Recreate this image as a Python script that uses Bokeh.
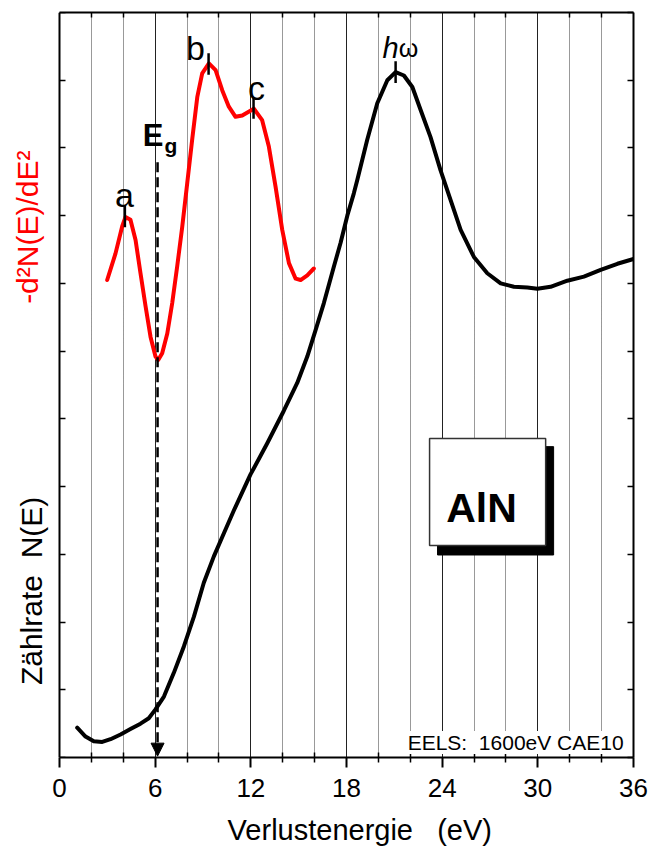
import math
from bokeh.plotting import figure
from bokeh.models import (FixedTicker, LinearAxis, Label, Arrow, NormalHead, Range1d, Grid)
from bokeh.core.properties import value
from bokeh.embed import file_html
from bokeh.resources import INLINE

FONT = "Liberation Sans"

# Black curve: Zählrate N(E)
energy_N = [1.11, 1.63, 2.15, 2.68, 3.20, 3.83, 4.45, 5.08, 5.60, 6.02, 6.55, 7.17, 7.80, 8.43,
            9.05, 9.68, 10.31, 10.94, 11.98, 13.03, 14.07, 14.91, 15.54, 16.06, 16.58, 17.21,
            17.63, 18.05, 18.46, 18.68, 19.30, 19.93, 20.56, 21.08, 21.60, 22.13, 22.65, 23.27,
            23.90, 24.53, 25.16, 25.99, 26.83, 27.67, 28.50, 29.34, 29.97, 30.80, 31.85, 32.89,
            33.94, 34.99, 36.00]
count_N = [0.44, 0.31, 0.24, 0.23, 0.27, 0.34, 0.42, 0.50, 0.58, 0.71, 0.90, 1.25, 1.64, 2.08,
           2.58, 2.97, 3.31, 3.65, 4.18, 4.64, 5.12, 5.53, 5.92, 6.31, 6.71, 7.25,
           7.60, 8.00, 8.33, 8.53, 9.12, 9.66, 10.00, 10.12, 10.07, 9.90, 9.56, 9.16,
           8.67, 8.23, 7.79, 7.39, 7.15, 7.00, 6.95, 6.94, 6.92, 6.95, 7.04, 7.10,
           7.20, 7.29, 7.36]

# Red curve: -d2N(E)/dE2
energy_d2 = [2.99, 3.51, 3.93, 4.14, 4.45, 4.77, 5.08, 5.40, 5.71, 6.02, 6.19, 6.44, 6.76, 7.07,
             7.38, 7.70, 8.01, 8.32, 8.64, 8.95, 9.37, 9.79, 10.21, 10.62, 11.04, 11.46, 12.19,
             12.71, 13.13, 13.55, 13.97, 14.39, 14.81, 15.12, 15.54, 15.95]
d2_N = [7.05, 7.44, 7.84, 7.98, 7.94, 7.64, 7.15, 6.66, 6.21, 5.92, 5.87, 5.97, 6.26, 6.71,
        7.25, 7.84, 8.48, 9.12, 9.75, 10.10, 10.25, 10.15, 9.85, 9.61, 9.46, 9.48, 9.58,
        9.41, 9.02, 8.43, 7.79, 7.30, 7.07, 7.05, 7.12, 7.22]

# Peak markers and their labels
peak_x = [4.10, 9.35, 12.17, 21.08]
peak_y = [7.99, 10.24, 9.59, 10.12]
peak_labels = ["a", "b", "c"]
peak_label_x = [4.08, 8.53, 12.36]
peak_label_y = [8.30, 10.47, 9.88]

# Band gap energy
gap_energy = 6.15

x_major = [0, 6, 12, 18, 24, 30, 36]
x_minor = [2, 4, 8, 10, 14, 16, 20, 22, 26, 28, 32, 34]
y_ticks = list(range(0, 12))

NB = "\u00a0"

p = figure(width=660, height=848, x_range=Range1d(-3.387, 36), y_range=Range1d(0, 11),
           output_backend="svg", toolbar_location=None,
           x_axis_type=None, y_axis_type=None,
           min_border_left=5, min_border_right=27, min_border_top=12, min_border_bottom=90)
p.outline_line_color = None
p.background_fill_color = "white"

xticker = FixedTicker(ticks=x_major, minor_ticks=x_minor)

xaxis = LinearAxis(ticker=xticker, bounds=(0, 36), axis_line_width=2, major_tick_line_width=2,
                   minor_tick_line_width=1.5, major_tick_in=0, major_tick_out=10,
                   minor_tick_in=5, minor_tick_out=5,
                   major_label_text_font=FONT, major_label_text_font_size="26px",
                   major_label_text_color="black", major_label_standoff=11,
                   axis_label=NB * 10 + "Verlustenergie" + NB * 3 + "(eV)",
                   axis_label_text_font=FONT, axis_label_text_font_size="29px",
                   axis_label_text_font_style="normal", axis_label_text_color="black",
                   axis_label_standoff=14)
p.add_layout(xaxis, "below")

top_axis = LinearAxis(ticker=FixedTicker(ticks=[], minor_ticks=x_minor), bounds=(0, 36),
                      axis_line_width=2, minor_tick_line_width=1.5,
                      minor_tick_in=5, minor_tick_out=0, major_tick_in=0, major_tick_out=0)
p.add_layout(top_axis, "above")

left_axis = LinearAxis(ticker=FixedTicker(ticks=[], minor_ticks=y_ticks), fixed_location=0,
                       axis_line_width=2, minor_tick_line_width=1.5,
                       minor_tick_in=6, minor_tick_out=0, major_tick_in=0, major_tick_out=0)
p.add_layout(left_axis, "left")

right_axis = LinearAxis(ticker=FixedTicker(ticks=[], minor_ticks=y_ticks),
                        axis_line_width=2, minor_tick_line_width=1.5,
                        minor_tick_in=6, minor_tick_out=0, major_tick_in=0, major_tick_out=0)
p.add_layout(right_axis, "right")

grid = Grid(dimension=0, axis=xaxis, grid_line_color="#222222", grid_line_width=1,
            minor_grid_line_color="#333333", minor_grid_line_dash="1 1", minor_grid_line_width=1)
p.add_layout(grid)

# curves
p.line(energy_N, count_N, line_width=4, color="black", line_join="round", line_cap="round")
p.line(energy_d2, d2_N, line_width=4, color="#ff0000", line_join="round", line_cap="round")

# peak markers
p.segment(x0=peak_x, y0=[y - 0.16 for y in peak_y], x1=peak_x, y1=[y + 0.16 for y in peak_y],
          line_width=2.5, color="black")

p.text(x=peak_label_x, y=peak_label_y, text=peak_labels, text_font=value(FONT),
       text_font_size="34px", text_align="center", text_baseline="alphabetic", text_color="black")

# h omega
p.text(x=[21.27], y=[10.47], text=["h"], text_font=value(FONT), text_font_style="italic",
       text_font_size="29px", text_align="right", text_baseline="alphabetic", text_color="black")
p.text(x=[21.27], y=[10.47], text=["ω"], text_font=value(FONT),
       text_font_size="25px", text_align="left", text_baseline="alphabetic", text_color="black")

# band gap arrow
p.add_layout(Arrow(end=NormalHead(size=13, fill_color="black", line_color="black", line_width=1),
                   x_start=gap_energy, y_start=8.79, x_end=gap_energy, y_end=0.02,
                   line_dash="10 5", line_width=2.5, line_color="black"))
p.text(x=[6.52], y=[9.19], text=["E"], text_font=value(FONT), text_font_style="bold",
       text_font_size="31px", text_align="right", text_baseline="alphabetic", text_color="black")
p.text(x=[6.58], y=[9.04], text=["g"], text_font=value(FONT), text_font_style="bold",
       text_font_size="21px", text_align="left", text_baseline="alphabetic", text_color="black")

# AlN box with shadow
p.quad(left=[23.71], right=[30.99], top=[4.59], bottom=[2.99], fill_color="black", line_color="black")
p.quad(left=[23.21], right=[30.49], top=[4.71], bottom=[3.13], fill_color="white",
       line_color="#333333", line_width=1.5)
p.text(x=[26.47], y=[3.69], text=["AlN"], text_font=value(FONT), text_font_style="bold",
       text_font_size="41px", text_align="center", text_baseline="alphabetic", text_color="black")

p.add_layout(Label(x=35.38, y=0.22, text="EELS:" + NB * 2 + "1600eV CAE10", text_font=FONT,
                   text_font_size="21px", text_align="right", text_baseline="alphabetic",
                   text_color="black", background_fill_color="white"))

# y axis titles (left of the axis line, inside the extended range)
p.text(x=[-1.76], y=[2.46], text=["Zählrate" + NB * 2 + "N(E)"], text_font=value(FONT),
       angle=math.pi / 2, text_font_size="30px", text_align="center",
       text_baseline="alphabetic", text_color="black")
p.text(x=[-2.01], y=[7.83], text=["-d²N(E)/dE²"], text_font=value(FONT),
       angle=math.pi / 2, text_font_size="30px", text_align="center",
       text_baseline="alphabetic", text_color="#ff0000")

open("out.html", "w").write(file_html(p, INLINE))
